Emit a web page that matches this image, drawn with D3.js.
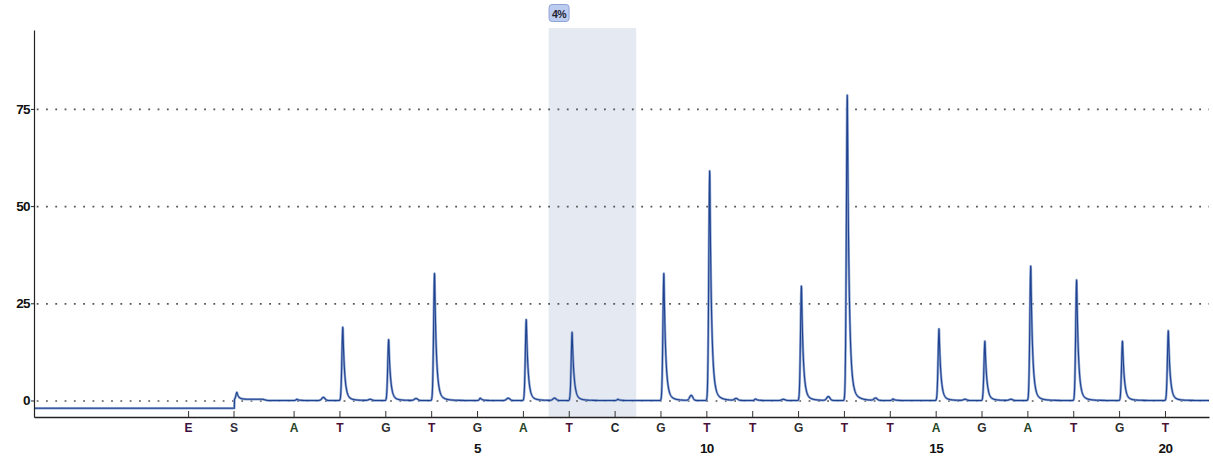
<!DOCTYPE html>
<html>
<head>
<meta charset="utf-8">
<script src="https://cdn.jsdelivr.net/npm/d3@7"></script>
<style>
  html, body { margin: 0; padding: 0; background: #ffffff; }
  svg { display: block; }
</style>
</head>
<body>
<svg id="chart" width="1213" height="458"></svg>
<script>
// Pyrogram: dispensation order, cycle position of each dispensation and peak height (RLU)
const dispensation = ["E","S","A","T","G","T","G","A","T","C","G","T","T","G","T","T","A","G","A","T","G","T"];
const cycles       = [-1.3,-0.31,1,2,3,4,5,6,7,8,9,10,11,12,13,14,15,16,17,18,19,20];
const peakHeights  = [0,1.8,0.3,19.0,15.8,33.0,0.6,21.0,17.7,0.3,33.0,59.6,0.4,29.7,79.3,0.4,18.6,15.4,34.9,31.3,15.4,18.1];

// Small background signals between dispensations
const minorCycles  = [1.65,2.67,3.67,5.68,6.69,9.67,10.65,11.68,12.66,13.69,15.64,16.64];
const minorHeights = [0.8,0.3,0.5,0.6,0.6,1.3,0.5,0.3,1.0,0.6,0.3,0.3];

// Baseline levels before the substrate and just after it
const preSubstrateLevel = -2.0;
const substratePlateau = 0.3;
const plateauEnd = 0.33;

const yTicks = [0, 25, 50, 75];
const cycleNumbers = [5, 10, 15, 20];

// Analysed variable position
const highlightRange = [6.56, 8.47];
const highlightLabel = "4%";

const letterColors = { A: "#254525", C: "#1e2630", G: "#2e2e2e", T: "#4a1038", E: "#3a1040", S: "#2e2e3c" };
const FONT = "'Liberation Sans', Arial, sans-serif";

const svg = d3.select("#chart");
const x = d3.scaleLinear().domain([-4.66, 20.96]).range([34, 1209]);
const y = d3.scaleLinear().domain([-4.25, 95.3]).range([417, 30]);

// highlighted region
svg.append("rect")
  .attr("x", x(highlightRange[0]))
  .attr("y", y(95.8))
  .attr("width", x(highlightRange[1]) - x(highlightRange[0]))
  .attr("height", y(-4.25) - y(95.8))
  .attr("fill", "#e5e9f1");

const tag = svg.append("g").attr("transform", `translate(${x(highlightRange[0])},4)`);
tag.append("rect")
  .attr("x", 0.5).attr("y", 0.5).attr("width", 20).attr("height", 17).attr("rx", 3)
  .attr("fill", "#bccbf0").attr("stroke", "#8fa3d6");
tag.append("text")
  .attr("x", 10.5).attr("y", 13.5)
  .attr("text-anchor", "middle")
  .attr("font-family", FONT).attr("font-weight", "bold").attr("font-size", 10.5)
  .attr("letter-spacing", -0.4)
  .attr("fill", "#1e1e30")
  .text(highlightLabel);

// dotted grid
const grid = svg.append("g").attr("transform", "translate(34,0)")
  .call(d3.axisLeft(y).tickValues(yTicks).tickSize(-(1209 - 34)).tickFormat(""));
grid.select(".domain").remove();
grid.selectAll("line")
  .attr("stroke", "#555").attr("stroke-width", 1.7)
  .attr("stroke-dasharray", "1.8 7.5").attr("stroke-dashoffset", -12);

// trace built from the peak heights
function kernel(d) {
  if (d < 0) return Math.exp(-(d / 0.03) * (d / 0.03));
  return 0.92 * Math.exp(-d / 0.037) + 0.08 * Math.exp(-d / 0.12);
}
function baseline(u) {
  const s = cycles[1];
  if (u < s + 0.02) return preSubstrateLevel;
  if (u < plateauEnd) return substratePlateau;
  if (u < plateauEnd + 0.1) return substratePlateau * (1 - (u - plateauEnd) / 0.1);
  return 0;
}
const [u0, u1] = x.domain();
const trace = [];
for (let u = u0; u <= u1 + 1e-9; u += 0.004) {
  let v = baseline(u);
  cycles.forEach((c, i) => {
    if (c === cycles[1] && u < c + 0.02) return;
    v += peakHeights[i] * kernel(u - (c + 0.075));
  });
  minorCycles.forEach((c, i) => {
    const d = (u - c) / 0.05;
    v += minorHeights[i] * Math.exp(-d * d);
  });
  trace.push([u, v]);
}
const line = d3.line().x(d => x(d[0])).y(d => y(d[1]));
svg.append("path").datum(trace).attr("d", line)
  .attr("fill", "none").attr("stroke", "#93a9d2").attr("stroke-width", 2.5).attr("stroke-linejoin", "round");
svg.append("path").datum(trace).attr("d", line)
  .attr("fill", "none").attr("stroke", "#1f4290").attr("stroke-width", 1.1).attr("stroke-linejoin", "round");

// y axis
const yAxis = svg.append("g").attr("transform", "translate(34,0)")
  .call(d3.axisLeft(y).tickValues(yTicks).tickSize(3).tickSizeOuter(0).tickPadding(1));
yAxis.select(".domain").attr("stroke", "#222").attr("stroke-width", 1.2);
yAxis.selectAll(".tick line").attr("stroke", "#222");
yAxis.selectAll("text")
  .attr("font-family", FONT).attr("font-weight", "bold").attr("font-size", 13.5)
  .attr("fill", "#111").attr("letter-spacing", -0.6);

// x axis with dispensation letters
const xAxis = svg.append("g").attr("transform", "translate(0,417)")
  .call(d3.axisBottom(x).tickValues(cycles).tickSize(-6).tickSizeOuter(0).tickPadding(6)
    .tickFormat((d, i) => dispensation[i]));
xAxis.select(".domain").attr("stroke", "#222").attr("stroke-width", 1.4);
xAxis.selectAll(".tick line").attr("stroke", "#333");
xAxis.selectAll("text")
  .attr("font-family", FONT).attr("font-weight", "bold").attr("font-size", 12)
  .attr("fill", (d, i) => letterColors[dispensation[i]]);

// cycle numbers
const nAxis = svg.append("g").attr("transform", "translate(0,417)")
  .call(d3.axisBottom(x).tickValues(cycleNumbers).tickSize(0).tickPadding(26));
nAxis.select(".domain").remove();
nAxis.selectAll("text")
  .attr("font-family", FONT).attr("font-weight", "bold").attr("font-size", 13.5)
  .attr("fill", "#111").attr("letter-spacing", -0.6);
</script>
</body>
</html>
